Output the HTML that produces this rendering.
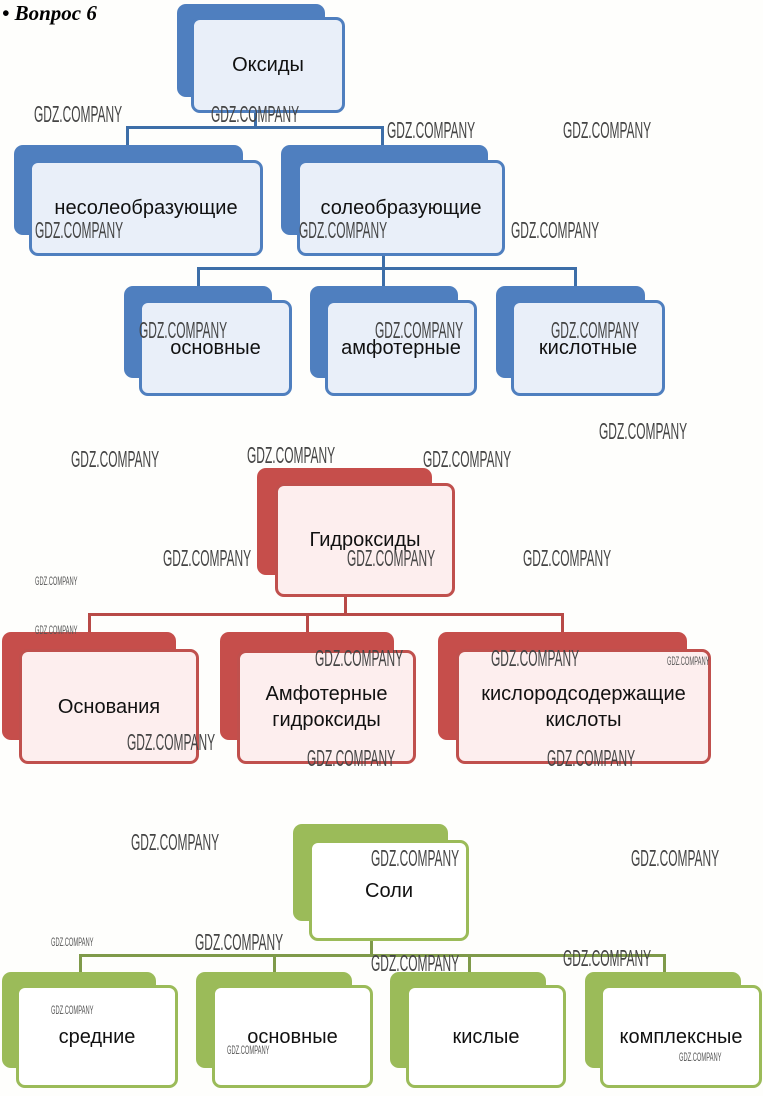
<!DOCTYPE html>
<html><head><meta charset="utf-8"><style>
body{margin:0;width:763px;height:1096px;background:#fefefc;position:relative;overflow:hidden;font-family:"Liberation Sans","DejaVu Sans",sans-serif}
.b{position:absolute;border-radius:9px}
.f{position:absolute;border-radius:9px;box-sizing:border-box;border:3px solid;display:flex;align-items:center;justify-content:center;text-align:center;font-size:20px;color:#111;line-height:26px}
.bl .b{background:#4f7fbf}.bl .f{border-color:#4f7fbf;background:#e9eff9}
.rd .b{background:#c64e4b}.rd .f{border-color:#c0504d;background:#fdeeee}
.gr .b{background:#9bbb59}.gr .f{border-color:#9bbb59;background:#fff}
.l{position:absolute}
.bl .l{background:#3d6ea8}.rd .l{background:#b84a47}.gr .l{background:#7f9a4a}
.w{position:absolute;font-size:23px;line-height:23px;color:#444;transform:scaleX(.52);transform-origin:0 0;white-space:nowrap}
.s{position:absolute;font-size:12px;line-height:12px;color:#555;transform:scaleX(.48);transform-origin:0 0;white-space:nowrap}
</style></head><body>
<div style="position:absolute;left:2px;top:1px;font-family:'Liberation Serif',serif;font-weight:bold;font-style:italic;font-size:21px">• Вопрос 6</div>

<div class="bl">
<div class="l" style="left:254px;top:113px;width:3px;height:15px"></div>
<div class="l" style="left:126px;top:126px;width:258px;height:3px"></div>
<div class="l" style="left:126px;top:126px;width:3px;height:19px"></div>
<div class="l" style="left:381px;top:126px;width:3px;height:19px"></div>
<div class="l" style="left:382px;top:256px;width:3px;height:13px"></div>
<div class="l" style="left:197px;top:267px;width:380px;height:3px"></div>
<div class="l" style="left:197px;top:267px;width:3px;height:19px"></div>
<div class="l" style="left:382px;top:267px;width:3px;height:19px"></div>
<div class="l" style="left:574px;top:267px;width:3px;height:19px"></div>
<div class="b" style="left:177px;top:4px;width:148px;height:93px"></div>
<div class="f" style="left:191px;top:17px;width:154px;height:96px">Оксиды</div>
<div class="b" style="left:14px;top:145px;width:229px;height:90px"></div>
<div class="f" style="left:29px;top:160px;width:234px;height:96px">несолеобразующие</div>
<div class="b" style="left:281px;top:145px;width:207px;height:90px"></div>
<div class="f" style="left:297px;top:160px;width:208px;height:96px">солеобразующие</div>
<div class="b" style="left:124px;top:286px;width:148px;height:92px"></div>
<div class="f" style="left:139px;top:300px;width:153px;height:96px">основные</div>
<div class="b" style="left:310px;top:286px;width:148px;height:92px"></div>
<div class="f" style="left:325px;top:300px;width:152px;height:96px">амфотерные</div>
<div class="b" style="left:496px;top:286px;width:149px;height:92px"></div>
<div class="f" style="left:511px;top:300px;width:154px;height:96px">кислотные</div>
</div>

<div class="rd">
<div class="l" style="left:344px;top:596px;width:3px;height:19px"></div>
<div class="l" style="left:88px;top:613px;width:476px;height:3px"></div>
<div class="l" style="left:88px;top:613px;width:3px;height:19px"></div>
<div class="l" style="left:306px;top:613px;width:3px;height:19px"></div>
<div class="l" style="left:561px;top:613px;width:3px;height:19px"></div>
<div class="b" style="left:257px;top:468px;width:175px;height:107px"></div>
<div class="f" style="left:275px;top:483px;width:180px;height:114px">Гидроксиды</div>
<div class="b" style="left:2px;top:632px;width:174px;height:108px"></div>
<div class="f" style="left:19px;top:649px;width:180px;height:115px">Основания</div>
<div class="b" style="left:220px;top:632px;width:174px;height:108px"></div>
<div class="f" style="left:237px;top:650px;width:179px;height:114px">Амфотерные<br>гидроксиды</div>
<div class="b" style="left:438px;top:632px;width:249px;height:108px"></div>
<div class="f" style="left:456px;top:649px;width:255px;height:115px">кислородсодержащие<br>кислоты</div>
</div>

<div class="gr">
<div class="l" style="left:370px;top:940px;width:3px;height:16px"></div>
<div class="l" style="left:79px;top:954px;width:587px;height:3px"></div>
<div class="l" style="left:79px;top:954px;width:3px;height:18px"></div>
<div class="l" style="left:273px;top:954px;width:3px;height:18px"></div>
<div class="l" style="left:468px;top:954px;width:3px;height:18px"></div>
<div class="l" style="left:663px;top:954px;width:3px;height:18px"></div>
<div class="b" style="left:293px;top:824px;width:155px;height:97px"></div>
<div class="f" style="left:309px;top:840px;width:160px;height:101px">Соли</div>
<div class="b" style="left:2px;top:972px;width:154px;height:96px"></div>
<div class="f" style="left:16px;top:985px;width:162px;height:103px">средние</div>
<div class="b" style="left:196px;top:972px;width:156px;height:96px"></div>
<div class="f" style="left:212px;top:985px;width:161px;height:103px">основные</div>
<div class="b" style="left:390px;top:972px;width:156px;height:96px"></div>
<div class="f" style="left:406px;top:985px;width:160px;height:103px">кислые</div>
<div class="b" style="left:585px;top:972px;width:156px;height:96px"></div>
<div class="f" style="left:600px;top:985px;width:162px;height:103px">комплексные</div>
</div>

<div class="w" style="left:34px;top:103px">GDZ.COMPANY</div>
<div class="w" style="left:211px;top:103px">GDZ.COMPANY</div>
<div class="w" style="left:387px;top:119px">GDZ.COMPANY</div>
<div class="w" style="left:563px;top:119px">GDZ.COMPANY</div>
<div class="w" style="left:35px;top:219px">GDZ.COMPANY</div>
<div class="w" style="left:299px;top:219px">GDZ.COMPANY</div>
<div class="w" style="left:511px;top:219px">GDZ.COMPANY</div>
<div class="w" style="left:139px;top:319px">GDZ.COMPANY</div>
<div class="w" style="left:375px;top:319px">GDZ.COMPANY</div>
<div class="w" style="left:551px;top:319px">GDZ.COMPANY</div>
<div class="w" style="left:599px;top:420px">GDZ.COMPANY</div>
<div class="w" style="left:71px;top:448px">GDZ.COMPANY</div>
<div class="w" style="left:247px;top:444px">GDZ.COMPANY</div>
<div class="w" style="left:423px;top:448px">GDZ.COMPANY</div>
<div class="w" style="left:163px;top:547px">GDZ.COMPANY</div>
<div class="w" style="left:347px;top:547px">GDZ.COMPANY</div>
<div class="w" style="left:523px;top:547px">GDZ.COMPANY</div>
<div class="w" style="left:315px;top:647px">GDZ.COMPANY</div>
<div class="w" style="left:491px;top:647px">GDZ.COMPANY</div>
<div class="w" style="left:127px;top:731px">GDZ.COMPANY</div>
<div class="w" style="left:307px;top:747px">GDZ.COMPANY</div>
<div class="w" style="left:547px;top:747px">GDZ.COMPANY</div>
<div class="w" style="left:131px;top:831px">GDZ.COMPANY</div>
<div class="w" style="left:371px;top:847px">GDZ.COMPANY</div>
<div class="w" style="left:631px;top:847px">GDZ.COMPANY</div>
<div class="w" style="left:195px;top:931px">GDZ.COMPANY</div>
<div class="w" style="left:371px;top:952px">GDZ.COMPANY</div>
<div class="w" style="left:563px;top:947px">GDZ.COMPANY</div>
<div class="s" style="left:35px;top:575px">GDZ.COMPANY</div>
<div class="s" style="left:35px;top:624px">GDZ.COMPANY</div>
<div class="s" style="left:667px;top:655px">GDZ.COMPANY</div>
<div class="s" style="left:51px;top:936px">GDZ.COMPANY</div>
<div class="s" style="left:51px;top:1004px">GDZ.COMPANY</div>
<div class="s" style="left:227px;top:1044px">GDZ.COMPANY</div>
<div class="s" style="left:679px;top:1051px">GDZ.COMPANY</div>
</body></html>
